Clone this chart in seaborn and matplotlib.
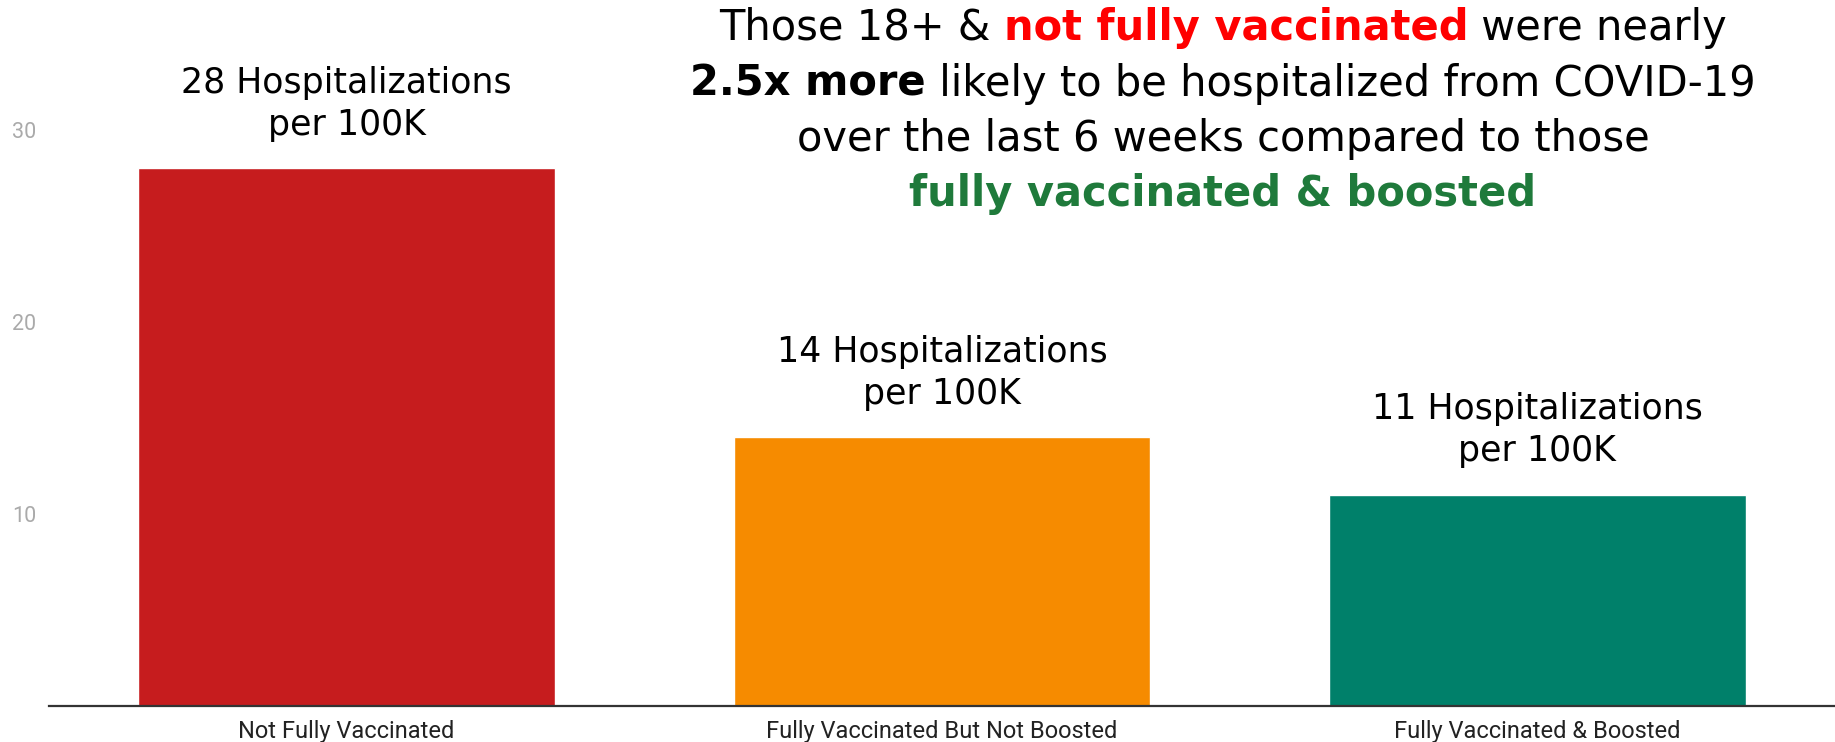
#!/usr/bin/env python3

import seaborn as sns
import matplotlib.pyplot as plt
import pandas as pd

categories = ["Not Fully Vaccinated", "Fully Vaccinated But Not Boosted", "Fully Vaccinated & Boosted"]
rates = [28, 14, 11]
bar_colors = ["#c61c1e", "#f68b00", "#00806a"]
yticks = [10, 20, 30]

# title is built from coloured / bold pieces, one list per line
title_lines = [
    [("Those 18+ & ", "normal", "black"), ("not fully vaccinated", "bold", "#ff0000"), (" were nearly", "normal", "black")],
    [("2.5x more", "bold", "black"), (" likely to be hospitalized from COVID-19", "normal", "black")],
    [("over the last 6 weeks compared to those", "normal", "black")],
    [("fully vaccinated & boosted", "bold", "#1f7a3b")],
]

W, H = 1835, 742


def DrawTitle(fig, lines, cx, baselines, size):
    renderer = fig.canvas.get_renderer()
    for line, yb in zip(lines, baselines):
        texts = []
        for s, weight, color in line:
            t = fig.text(0, 1 - yb / H, s, fontsize=size, fontweight=weight, color=color,
                         family="DejaVu Sans", va="baseline", ha="left")
            texts.append(t)
        widths = [t.get_window_extent(renderer).width for t in texts]
        x = cx - sum(widths) / 2
        for t, w in zip(texts, widths):
            t.set_x(x / W)
            x += w


def ShowChart():
    sns.set_style("white")
    df = pd.DataFrame({"group": categories, "rate": rates})

    fig = plt.figure(figsize=(W / 100, H / 100), dpi=100)
    ax = fig.add_axes([49 / W, 36 / H, 1786 / W, 706 / H])

    sns.barplot(data=df, x="group", y="rate", hue="group", palette=bar_colors,
                width=0.7, legend=False, saturation=1, ax=ax)

    ax.set_xlim(-0.5, 2.5)
    ax.set_ylim(0, 36.75)
    ax.set_yticks(yticks)
    ax.set_yticklabels([str(v) for v in yticks], family="Roboto", fontsize=15.5, color="#aaaaaa")
    ax.tick_params(axis="y", length=0, pad=9)
    ax.tick_params(axis="x", length=0, pad=10)
    for lab in ax.get_xticklabels():
        lab.set_family("Roboto")
        lab.set_fontsize(17)
        lab.set_color("#222222")
    ax.set_xlabel("")
    ax.set_ylabel("")
    for side in ["left", "right", "top"]:
        ax.spines[side].set_visible(False)
    ax.spines["bottom"].set_color("#333333")
    ax.spines["bottom"].set_linewidth(1.6)

    for i, v in enumerate(rates):
        ax.annotate(f"{v} Hospitalizations\nper 100K", xy=(i, v), xytext=(0, 24),
                    textcoords="offset points", ha="center", va="baseline",
                    fontsize=25, family="DejaVu Sans", linespacing=1.3, color="black")

    DrawTitle(fig, title_lines, 1223, [40, 96, 151, 206], 30)

    fig.savefig("out.png", dpi=100)


if __name__ == "__main__":
    ShowChart()
